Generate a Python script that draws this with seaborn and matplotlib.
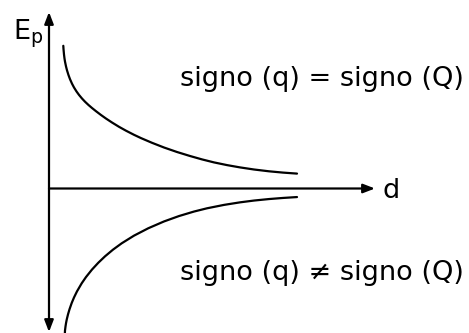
import matplotlib
matplotlib.use("Agg")
import matplotlib.pyplot as plt
import seaborn as sns
import pandas as pd

# Upper curve: signo (q) = signo (Q)
d_upper = [14.3, 14.5, 15, 15.5, 16, 17, 18, 19.5, 21, 23, 25, 27.5, 30, 33, 36, 39.5, 43, 47,
           52, 57, 63, 70, 77, 85, 92, 103, 115, 128, 141, 153, 165, 178, 191, 205, 220, 234, 248]
ep_upper = [142.7, 139.5, 134.0, 130.0, 126.9, 122.1, 118.2, 113.4, 109.35, 104.85, 101.05, 97.05, 93.6, 90.0, 86.8, 83.5, 80.5, 77.3,
            73.5, 69.95, 66.0, 61.7, 57.8, 53.7, 50.4, 45.7, 41.0, 36.5, 32.5, 29.1, 26.1, 23.4, 21.1, 19.0, 17.2, 15.9, 14.9]

# Lower curve: signo (q) != signo (Q)
d_lower = [15.85, 16, 16.5, 17, 17.7, 19, 20.5, 22.7, 25, 28, 32.7, 37, 43, 49.3, 56, 64, 72.7,
           85, 99.3, 115, 130, 145, 158, 175, 191, 205, 220, 234, 248]
ep_lower = [-145.5, -142, -138, -134.8, -131.2, -125.9, -120.8, -114.5, -109.0, -102.85, -94.8, -88.55, -81.05, -74.25, -67.85, -61.15, -54.8,
            -47.15, -39.75, -32.95, -27.55, -23.05, -19.8, -16.4, -13.85, -12.05, -10.55, -9.45, -8.55]

label_upper = "signo (q) = signo (Q)"
label_lower = "signo (q) \u2260 signo (Q)"
x_label = "d"
y_label = r"$\mathregular{E_p}$"

sns.set_theme(style="white")
plt.rcParams['font.family'] = ['DejaVu Sans']
plt.rcParams['text.color'] = 'black'

fig = plt.figure(figsize=(4.69, 3.33), dpi=100)
ax = fig.add_axes([0, 0, 1, 1])
ax.set_xlim(-49, 420)
ax.set_ylim(-144.5, 188.5)
ax.axis("off")

df_u = pd.DataFrame({"d": d_upper, "Ep": ep_upper})
df_l = pd.DataFrame({"d": d_lower, "Ep": ep_lower})
sns.lineplot(data=df_u, x="d", y="Ep", ax=ax, color="black", lw=1.6, estimator=None)
sns.lineplot(data=df_l, x="d", y="Ep", ax=ax, color="black", lw=1.6, estimator=None)
for ln in ax.lines:
    ln.set_solid_joinstyle("round")

arrow_kw = dict(color="black", lw=1.6, shrinkA=0, shrinkB=0, mutation_scale=10)
# vertical axis (double arrow)
ax.annotate("", xy=(0, 176.5), xytext=(0, -143.5),
            arrowprops=dict(arrowstyle="<|-|>,head_length=0.7,head_width=0.27", **arrow_kw))
# horizontal axis
ax.annotate("", xy=(326, 0), xytext=(0, 0),
            arrowprops=dict(arrowstyle="-|>,head_length=0.7,head_width=0.27", **arrow_kw))

fs = 19.5
ax.text(-36, 171, y_label, fontsize=fs, ha="left", va="top", color="black")
ax.text(333, 0, x_label, fontsize=fs, ha="left", va="center_baseline", color="black")
ax.text(131, 103, label_upper, fontsize=fs, ha="left", va="baseline", color="black")
ax.text(131, -91, label_lower, fontsize=fs, ha="left", va="baseline", color="black")

fig.savefig("out.png", dpi=100)
